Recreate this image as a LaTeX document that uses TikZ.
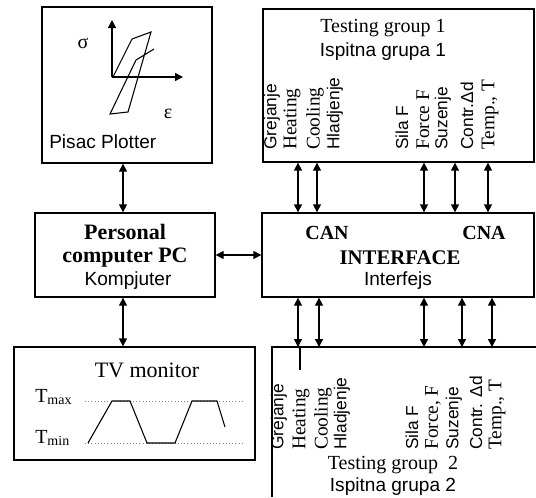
\documentclass[tikz,border=0pt]{standalone}
\usepackage{fontspec}
\setmainfont{Liberation Serif}
\setsansfont{Liberation Sans}
\usetikzlibrary{arrows.meta, fit}

\tikzset{
  box/.style={draw, line width=1pt, inner sep=0pt},
  link/.style={line width=1pt, <->},
  sigs/.style={rotate=90, anchor=west, inner sep=0pt, font=\fontsize{13}{13}\sffamily},
  sigr/.style={rotate=90, anchor=west, inner sep=0pt, font=\fontsize{14.5}{14}\selectfont},
  ssf/.style={inner sep=0pt, font=\fontsize{14.3}{16}\sffamily},
  srm/.style={inner sep=0pt, font=\fontsize{15}{17}\selectfont},
  sbf/.style={inner sep=0pt, font=\fontsize{16.5}{18}\bfseries},
}

\begin{document}
\begin{tikzpicture}[x=0.75pt,y=-0.75pt,>={Triangle[length=6pt,width=6pt]}]
\useasboundingbox (0,0) rectangle (536,497);
% blocks
\node[box, fit={(42,7) (212,163)}] (plot) {};
\node[box, fit={(35,213) (215,297)}] (pc) {};
\node[box, fit={(14,347) (255,460)}] (tv) {};
\node[box, fit={(263,9) (534,162)}] (tg1) {};
\node[box, fit={(262,213) (534,297)}] (iface) {};
\coordinate (tg2nw) at (272,347);
\coordinate (tg2ne) at (536,347);
\coordinate (tg2sw) at (272,497);
\draw[line width=1pt] (tg2sw) -- (tg2nw) -- (tg2ne);

% plotter
\coordinate (o) at (112,77);
\coordinate (ytop) at (112,20);
\coordinate (xend) at (183,77);
\draw[line width=1pt,->] (o) -- (ytop);
\draw[line width=1pt,->] (o) -- (xend);
\draw[line width=0.8pt] (113,77) -- (132,39) -- (151,32) -- (128,112) -- (110,114) -- (136,60) -- (154,49);
\node[srm] (sigma) at (83,43) {σ};
\node[srm] (eps) at (168,114) {ε};
\node[ssf, anchor=west] (plotname) at (49,142) {Pisac Plotter};

% PC
\node[sbf] (pc1) at (125,232) {Personal};
\node[sbf] (pc2) at (125,258) {computer PC};
\node[ssf] (pc3) at (128,281) {Kompjuter};

% TV monitor
\node[inner sep=0pt, font=\fontsize{16.5}{18}\selectfont] (tvname) at (147,370) {TV monitor};
\node[srm, anchor=base west] (tmax) at (35,402) {T\textsubscript{max}};
\node[srm, anchor=base west] (tmin) at (35,443) {T\textsubscript{min}};
\draw[dotted, gray] (85,401) -- (242,401);
\draw[dotted, gray] (85,443) -- (242,443);
\draw[line width=0.8pt] (88,443) -- (112,401) -- (130,401) -- (147,443) -- (175,443) -- (192,401) -- (217,401) -- (225,427);

% interface
\node[inner sep=0pt, font=\fontsize{15}{17}\bfseries] (can) at (327,233) {CAN};
\node[inner sep=0pt, font=\fontsize{15}{17}\bfseries] (cna) at (484,233) {CNA};
\node[inner sep=0pt, font=\fontsize{15.6}{17}\bfseries] (ifname) at (400,258) {INTERFACE};
\node[ssf] (ifsub) at (398,281) {Interfejs};

% testing groups
\node[srm] (tg1title) at (383,28) {Testing group 1};
\node[ssf] (tg1sub) at (383,52) {Ispitna grupa 1};
\foreach \x/\t [count=\i] in {272/Grejanje, 335/Hladjenje, 402/Sila F, 443/Suzenje, 467/Contr.Δd}
  \node[sigs] (a\i) at (\x,150) {\t};
\foreach \x/\t [count=\i] in {292/Heating, 315/Cooling, 423/Force F, 490/{Temp., T}}
  \node[sigr] (b\i) at (\x,150) {\t};
\node[srm] (tg2title) at (393,465) {Testing group\enspace 2};
\node[ssf] (tg2sub) at (393,487) {Ispitna grupa 2};
\foreach \x/\t [count=\i] in {279/Grejanje, 342/Hladjenje, 412/Sila F, 454/Suzenje, 476/Contr. Δd}
  \node[sigs] (c\i) at (\x,450) {\t};
\foreach \x/\t [count=\i] in {301/Heating, 323/Cooling, 433/{Force, F}, 497/{Temp., T}}
  \node[sigr] (d\i) at (\x,450) {\t};

% connectors
\coordinate (colpc) at (123,0);
\draw[link] (plot.south -| colpc) -- (pc.north -| colpc);
\draw[link] (pc.south -| colpc) -- (tv.north -| colpc);
\draw[link] (pc) -- (iface);
\foreach \x [count=\i] in {298,317,424,455,488} {
  \coordinate (up\i) at (\x,0);
  \draw[link] (tg1.south -| up\i) -- (iface.north -| up\i);
}
\foreach \x [count=\i] in {298,319,424,462,492} {
  \coordinate (dn\i) at (\x,0);
  \draw[link] (iface.south -| dn\i) -- (tg2nw -| dn\i);
}
\coordinate (tick) at (300,370);
\draw[line width=1pt] (tick |- tg2nw) -- (tick);
\end{tikzpicture}
\end{document}
